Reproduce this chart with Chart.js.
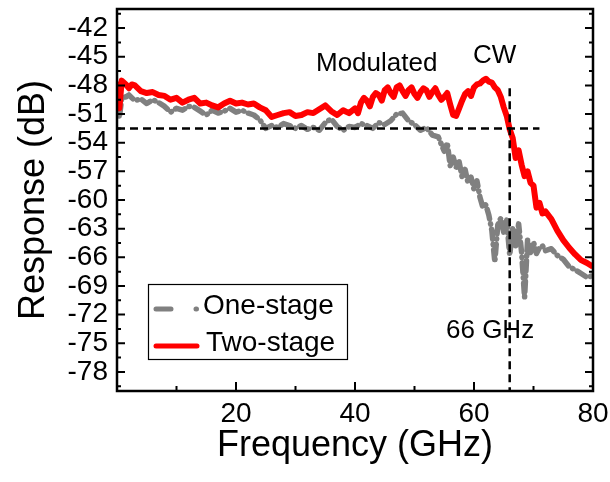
<!DOCTYPE html>
<html>
<head>
<meta charset="utf-8">
<script src="https://cdn.jsdelivr.net/npm/chart.js@4/dist/chart.umd.min.js"></script>
<style>
  html, body { margin: 0; padding: 0; background: #fff; }
</style>
</head>
<body>
<canvas id="grafico" width="610" height="482"></canvas>
<script>
// --- Datos ---
const freqTwo = [0, 0.4, 0.8, 1.5, 2, 2.5, 3, 4, 5, 6, 7, 8, 9, 10, 11, 12, 13, 14, 15, 16,
    17, 18, 19, 20, 21, 22, 23, 24, 25, 26, 27, 28, 29, 30, 31, 32, 33, 34, 35, 36,
    37, 38, 39, 40, 40.5, 41, 41.5, 42, 42.5, 43, 43.5, 44, 44.5, 45, 45.5, 46, 46.5, 47, 47.5, 48,
    48.5, 49, 49.5, 50, 50.5, 51, 51.5, 52, 52.5, 53, 53.5, 54, 54.5, 55, 55.5, 56, 56.5, 57, 57.5, 58,
    58.5, 59, 59.5, 60, 60.5, 61, 61.5, 62, 62.5, 63, 63.5, 64, 64.5, 65, 65.5, 66, 66.5, 67, 67.5, 68,
    68.5, 69, 69.5, 70, 70.5, 71, 71.5, 72, 73, 74, 75, 76, 77, 78, 79, 80];
const respTwo = [-47.6, -50.4, -47.5, -47.9, -48.3, -47.9, -48.0, -48.6, -48.8, -48.7, -49.0, -49.1, -49.5, -49.3, -49.8, -49.5, -49.3, -49.9, -49.8, -50.1,
    -50.3, -49.9, -49.6, -49.9, -49.8, -50.0, -49.9, -50.3, -50.6, -51.3, -51.1, -50.9, -50.8, -51.2, -51.1, -50.8, -50.9, -50.5, -50.1, -50.7,
    -51.1, -50.6, -50.9, -50.4, -50.9, -49.8, -49.3, -49.6, -50.2, -49.2, -48.8, -49.0, -49.6, -48.5, -48.2, -48.8, -49.2, -48.2, -48.0, -48.6,
    -49.1, -48.5, -48.2, -48.9, -49.3, -48.7, -48.3, -48.5, -49.2, -48.7, -48.3, -49.0, -49.5, -49.2, -48.8, -50.0, -51.1, -51.2, -50.4, -49.6,
    -48.9, -48.6, -49.1, -48.2, -47.9, -47.8, -47.5, -47.3, -47.6, -47.7, -48.2, -48.5, -49.2, -50.3, -51.2, -52.6, -53.5, -55.6, -54.8, -56.3,
    -57.5, -57.0, -58.2, -58.5, -60.8, -60.3, -61.4, -61.2, -62.0, -63.2, -64.2, -65.0, -65.7, -66.3, -66.6, -67.0];

const freqOne = [0, 0.4, 0.8, 1.5, 2, 3, 4, 5, 6, 7, 8, 9, 10, 11, 12, 13, 14, 15, 16, 17,
    18, 19, 20, 21, 22, 23, 24, 25, 26, 27, 28, 29, 30, 31, 32, 33, 34, 35, 36, 37,
    38, 39, 40, 41, 42, 43, 44, 45, 46, 47, 48, 49, 50, 51, 52, 53, 54, 55, 55.5, 56,
    56.5, 57, 57.5, 58, 58.5, 59, 59.5, 60, 60.5, 61, 61.5, 62, 62.5, 63, 63.5, 64, 64.5, 65, 65.5, 66,
    66.5, 67, 67.5, 68, 68.5, 69, 69.5, 70, 70.5, 71, 71.5, 72, 73, 74, 75, 76, 77, 78, 79, 80];
const respOne = [-49.6, -51.4, -49.3, -49.2, -49.0, -49.6, -49.4, -49.9, -49.5, -49.8, -50.2, -50.8, -50.4, -50.6, -50.2, -50.3, -50.7, -51.1, -50.6, -50.9,
    -50.7, -50.4, -50.8, -50.6, -50.9, -51.1, -51.6, -52.5, -52.2, -52.4, -52.0, -52.2, -52.5, -52.2, -52.6, -52.4, -52.7, -51.9, -51.5, -52.3,
    -52.7, -52.3, -52.4, -52.0, -52.2, -52.5, -51.9, -52.1, -51.7, -51.0, -50.9, -51.7, -52.1, -52.7, -52.4, -53.2, -53.4, -54.9, -54.0, -56.4,
    -55.5, -56.6, -56.0, -57.6, -56.8, -58.2, -57.6, -58.9, -58.0, -59.7, -60.8, -60.5, -61.6, -63.2, -66.5, -62.6, -61.9, -63.4, -62.1, -65.8,
    -63.0, -64.8, -62.5, -65.5, -70.2, -64.2, -65.5, -64.4, -65.6, -65.0, -64.8, -65.3, -65.1, -65.8, -66.2, -67.0, -67.3, -67.7, -68.1, -67.9];

// lineas de referencia
const refHorizX = [0, 71];
const refHorizY = [-52.5, -52.5];
const refVertX = [66, 66];
const refVertY = [-48.3, -80];

const xTicks = [20, 40, 60, 80];
const xMinor = [10, 30, 50, 70];
const yTicks = [-42, -45, -48, -51, -54, -57, -60, -63, -66, -69, -72, -75, -78];
const yMinor = [-40.5, -43.5, -46.5, -49.5, -52.5, -55.5, -58.5, -61.5, -64.5, -67.5, -70.5, -73.5, -76.5, -79.5];

const nombres = ["One-stage", "Two-stage"];
const FUENTE = "'Liberation Sans', Arial, sans-serif";
const GRIS = "#808080";
const ROJO = "#ff0000";

const aPuntos = (xs, ys) => xs.map((x, i) => ({ x, y: ys[i] }));

// --- Marco, ticks, textos y leyenda ---
const pluginMarco = {
    id: "marco",
    afterDraw(chart) {
        const { ctx, chartArea: a, scales: { x, y } } = chart;
        ctx.save();
        ctx.strokeStyle = "#000";
        ctx.lineWidth = 2.5;
        ctx.setLineDash([]);
        ctx.strokeRect(a.left, a.top, a.right - a.left, a.bottom - a.top);

        ctx.lineWidth = 2;
        ctx.beginPath();
        xTicks.forEach(v => { const p = x.getPixelForValue(v); ctx.moveTo(p, a.bottom); ctx.lineTo(p, a.bottom - 9); });
        xMinor.forEach(v => { const p = x.getPixelForValue(v); ctx.moveTo(p, a.bottom); ctx.lineTo(p, a.bottom - 5); });
        yTicks.forEach(v => {
            const p = y.getPixelForValue(v);
            ctx.moveTo(a.left, p); ctx.lineTo(a.left + 8, p);
            ctx.moveTo(a.right, p); ctx.lineTo(a.right - 8, p);
        });
        yMinor.forEach(v => {
            const p = y.getPixelForValue(v);
            ctx.moveTo(a.left, p); ctx.lineTo(a.left + 4, p);
            ctx.moveTo(a.right, p); ctx.lineTo(a.right - 4, p);
        });
        ctx.stroke();

        // anotaciones
        ctx.fillStyle = "#000";
        ctx.font = "26px " + FUENTE;
        ctx.textBaseline = "alphabetic";
        ctx.textAlign = "left";
        ctx.fillText("Modulated", 316, 71);
        ctx.fillText("CW", 473, 63);
        ctx.fillText("66 GHz", 446, 338);

        // leyenda
        ctx.lineWidth = 1.2;
        ctx.strokeRect(148.5, 284.5, 199, 75);
        ctx.lineCap = "round";
        ctx.lineWidth = 5;
        ctx.strokeStyle = GRIS;
        ctx.beginPath();
        ctx.moveTo(156, 309); ctx.lineTo(171, 309);
        ctx.moveTo(196, 309); ctx.lineTo(196.5, 309);
        ctx.stroke();
        ctx.strokeStyle = ROJO;
        ctx.beginPath();
        ctx.moveTo(156, 346); ctx.lineTo(197, 346);
        ctx.stroke();
        ctx.font = "28px " + FUENTE;
        ctx.textBaseline = "middle";
        ctx.fillText(nombres[0], 203, 306);
        ctx.fillText(nombres[1], 206, 343);
        ctx.restore();
    }
};

new Chart(document.getElementById("grafico"), {
    type: "line",
    data: {
        datasets: [
            { data: aPuntos(refHorizX, refHorizY), borderColor: "#000", borderWidth: 2.5, borderDash: [8, 5], order: 0 },
            { data: aPuntos(refVertX, refVertY), borderColor: "#000", borderWidth: 2.5, borderDash: [8, 5], order: 0 },
            { label: nombres[1], data: aPuntos(freqTwo, respTwo), borderColor: ROJO, borderWidth: 6,
              borderJoinStyle: "round", order: 1 },
            { label: nombres[0], data: aPuntos(freqOne, respOne), borderColor: GRIS, borderWidth: 5.5,
              borderDash: [10, 5, 0.5, 5], borderCapStyle: "round", borderJoinStyle: "round", order: 2 }
        ]
    },
    options: {
        responsive: false,
        animation: false,
        layout: { padding: { top: 9, right: 17, left: 0, bottom: 0 } },
        elements: { point: { radius: 0 }, line: { tension: 0 } },
        plugins: { legend: { display: false }, tooltip: { enabled: false } },
        scales: {
            x: {
                type: "linear", min: 0, max: 80,
                afterBuildTicks: s => { s.ticks = xTicks.map(v => ({ value: v })); },
                afterFit: s => { s.height = 91; s.paddingLeft = 0; s.paddingRight = 0; },
                grid: { display: false, drawTicks: false },
                border: { display: false },
                ticks: { color: "#000", font: { family: FUENTE, size: 28 }, padding: 6, maxRotation: 0, autoSkip: false },
                title: { display: true, text: "Frequency (GHz)", color: "#000",
                         font: { family: FUENTE, size: 36 }, padding: { top: 0, bottom: 14 } }
            },
            y: {
                type: "linear", min: -80, max: -40,
                afterBuildTicks: s => { s.ticks = yTicks.map(v => ({ value: v })); },
                afterFit: s => { s.width = 117; s.paddingTop = 0; s.paddingBottom = 0; },
                grid: { display: false, drawTicks: false },
                border: { display: false },
                ticks: { color: "#000", font: { family: FUENTE, size: 28 }, padding: 9, autoSkip: false },
                title: { display: true, text: "Response (dB)", color: "#000",
                         font: { family: FUENTE, size: 36 }, padding: { top: 12, bottom: 0 } }
            }
        }
    },
    plugins: [pluginMarco]
});
</script>
</body>
</html>
